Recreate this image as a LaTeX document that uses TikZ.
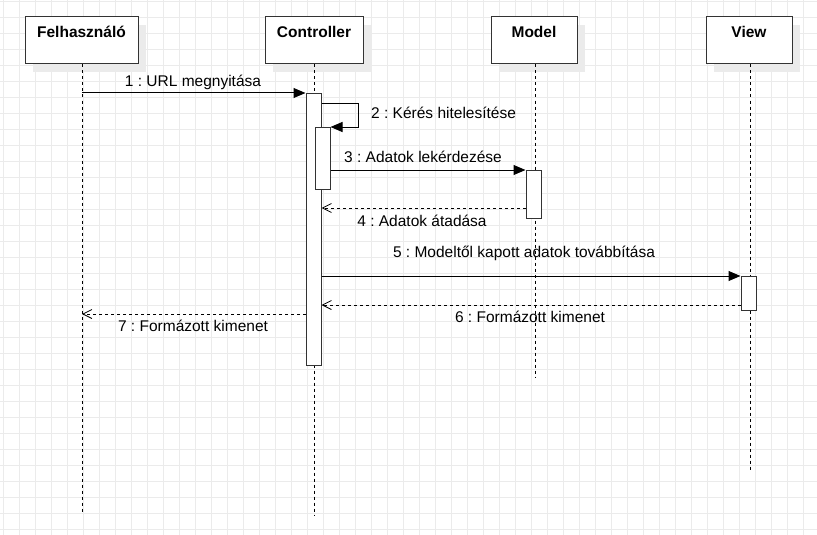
\documentclass[tikz,border=0pt]{standalone}
\usepackage{fontspec}
\setmainfont{Liberation Sans}
\usetikzlibrary{arrows.meta, shadows}
\frenchspacing

\tikzset{
  gridline/.style={draw=black!8, line width=0.7pt},
  actor/.style={draw=black!80, fill=white, line width=1pt, minimum width=98pt, minimum height=47pt,
    inner sep=0pt,
    drop shadow={shadow xshift=8pt, shadow yshift=-8pt, fill=black!8, opacity=1}},
  actorname/.style={font=\fontsize{15.5}{18}\selectfont\bfseries, inner sep=0pt},
  lifeline/.style={dashed, dash pattern=on 3pt off 3pt, line width=0.9pt},
  activation/.style={draw=black!80, fill=white, line width=1pt, minimum width=15pt, inner sep=0pt},
  msg/.style={line width=1pt, -{Triangle[length=12pt, width=10pt]}},
  reply/.style={line width=0.9pt, dashed, dash pattern=on 3pt off 3pt, -{Straight Barb[length=9pt, width=9pt, line width=0.8pt]}},
  msglabel/.style={font=\fontsize{15.5}{18}\selectfont, inner sep=0pt}
}

\begin{document}
\begin{tikzpicture}[x=1pt, y=-1pt]
  \useasboundingbox (0,0) rectangle (817,535);
  % background grid
  \foreach \gx in {3,19,...,817} \draw[gridline] (\gx,0) -- (\gx,535);
  \foreach \gy in {1,17,...,535} \draw[gridline] (0,\gy) -- (817,\gy);

  % participants
  \node[actor, minimum width=113pt] (user) at (81.5,40.5) {};
  \node[actorname] at (81.5,32) {Felhasználó};
  \node[actor] (ctrl) at (314,40.5) {};
  \node[actorname] at (314,32) {Controller};
  \node[actor, minimum width=86pt] (model) at (534,40.5) {};
  \node[actorname] at (534,32) {Model};
  \node[actor, minimum width=86pt] (view) at (749,40.5) {};
  \node[actorname] at (749,32) {View};

  % lifelines
  \coordinate (userend) at (82,514);
  \coordinate (ctrlend) at (314,515);
  \coordinate (modelend) at (535,378);
  \coordinate (viewend) at (750,470);
  \draw[lifeline] (user.south -| userend) -- (userend);
  \draw[lifeline] (ctrl.south -| ctrlend) -- (ctrlend);
  \draw[lifeline] (model.south -| modelend) -- (modelend);
  \draw[lifeline] (view.south -| viewend) -- (viewend);

  % activations
  \node[activation, minimum height=272pt, anchor=north] (actctrl) at (313.5,93) {};
  \node[activation, minimum height=62pt, anchor=north] (actauth) at (322.5,127) {};
  \node[activation, minimum height=48pt, anchor=north] (actmodel) at (533.5,170) {};
  \node[activation, minimum height=34pt, anchor=north] (actview) at (748.5,276) {};

  % messages
  \coordinate (u1) at (82,93);
  \draw[msg] (u1) -- (actctrl.north west);
  \node[msglabel] (l1) at (193,82) {1 : URL megnyitása};

  \coordinate (self1) at (358,103);
  \draw[msg] (actctrl.east |- self1) -- (self1) -- (self1 |- actauth.north) -- (actauth.north east);
  \node[msglabel, anchor=west] (l2) at (371,113) {2 : Kérés hitelesítése};

  \draw[msg] (actauth.east |- actmodel.north) -- (actmodel.north west);
  \node[msglabel] (l3) at (423,157) {3 : Adatok lekérdezése};

  \coordinate (r4) at (526,208);
  \draw[reply] (r4) -- (actctrl.east |- r4);
  \node[msglabel] (l4) at (422,221) {4 : Adatok átadása};

  \draw[msg] (actctrl.east |- actview.north) -- (actview.north west);
  \node[msglabel] (l5) at (524,253) {5 : Modeltől kapott adatok továbbítása};

  \coordinate (r6) at (741,305);
  \draw[reply] (r6) -- (actctrl.east |- r6);
  \node[msglabel] (l6) at (530,317) {6 : Formázott kimenet};

  \coordinate (r7) at (306,314);
  \draw[reply] (r7) -- (userend |- r7);
  \node[msglabel] (l7) at (193,326) {7 : Formázott kimenet};
\end{tikzpicture}
\end{document}
